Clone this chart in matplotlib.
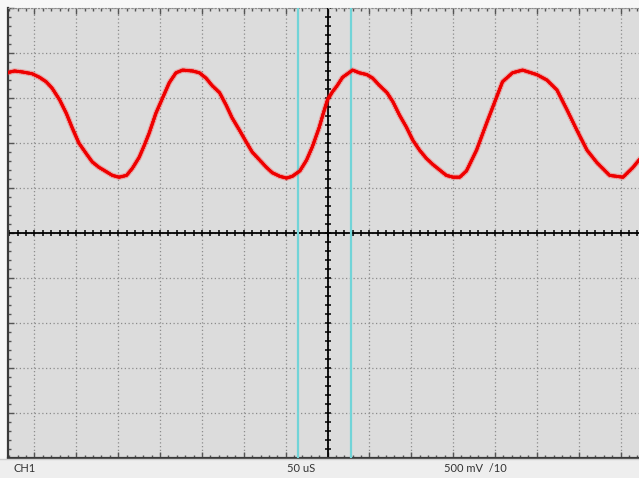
import numpy as np
import matplotlib
matplotlib.use("Agg")
import matplotlib.pyplot as plt
import matplotlib.patheffects as pe
from matplotlib.patches import Rectangle

# ---- data read from the reference screen ----
# time relative to trigger (µs), 50 µs/div
time_us = [-383, -374, -365, -353, -344, -336, -329, -320, -312, -305,
           -297, -288, -281, -273, -264, -257, -249, -240, -233, -225,
           -219, -213, -205, -197, -189, -181, -173, -161, -153, -145,
           -138, -129, -121, -114, -105, -97, -90, -81, -73, -66,
           -57, -49, -42, -33, -25, -18, -10, -5, 0, 6,
           11, 18, 30, 38, 47, 54, 62, 71, 78, 86,
           94, 102, 110, 118, 126, 134, 142, 150, 158, 166,
           178, 190, 202, 209, 221, 233, 250, 262, 274, 286,
           298, 310, 322, 337, 353, 365, 372]
# channel 1 voltage (V), 500 mV/div
volts = [1.78, 1.80, 1.79, 1.77, 1.73, 1.68, 1.61, 1.48, 1.33, 1.17,
         1.00, 0.88, 0.79, 0.73, 0.68, 0.64, 0.62, 0.64, 0.72, 0.84,
         0.97, 1.11, 1.33, 1.50, 1.67, 1.78, 1.81, 1.80, 1.78, 1.72,
         1.64, 1.56, 1.42, 1.28, 1.14, 1.01, 0.90, 0.81, 0.73, 0.67,
         0.63, 0.61, 0.63, 0.69, 0.81, 0.96, 1.17, 1.33, 1.48, 1.57,
         1.63, 1.73, 1.81, 1.78, 1.76, 1.72, 1.64, 1.56, 1.46, 1.31,
         1.18, 1.03, 0.92, 0.83, 0.76, 0.70, 0.64, 0.62, 0.62, 0.69,
         0.92, 1.22, 1.51, 1.68, 1.78, 1.81, 1.76, 1.70, 1.59, 1.37,
         1.14, 0.92, 0.78, 0.64, 0.62, 0.73, 0.81]
cursors_us = [-35, 28]
status_labels = ["CH1", "50 uS", "500 mV  /10"]

US_PER_DIV = 50.0
V_PER_DIV = 0.5
PX_PER_DIV_X = 41.86

W, H = 639, 478
fig = plt.figure(figsize=(W / 100, H / 100), dpi=100, facecolor="#f7f7f7")

# status bar
fig.patches.append(Rectangle((0, 0), 1, 19 / H, transform=fig.transFigure,
                             facecolor="#eeeeee", edgecolor="none", zorder=0))
fig.lines.append(plt.Line2D([0, 1], [19.5 / H, 19.5 / H], transform=fig.transFigure,
                            color="#cfcfcf", lw=1))

left_px, right_px, top_px, bot_px = 8, 639, 8, 458
center_px = 327.5
ax = fig.add_axes([left_px / W, (H - bot_px) / H,
                   (right_px - left_px) / W, (bot_px - top_px) / H])
ax.set_facecolor("#dcdcdc")
xl = (left_px - center_px) / PX_PER_DIV_X * US_PER_DIV
xr = (right_px - center_px) / PX_PER_DIV_X * US_PER_DIV
yl, yr = -5 * V_PER_DIV, 5 * V_PER_DIV

major_x = np.arange(-7, 8) * US_PER_DIV
minor_x = np.arange(-40, 40) * US_PER_DIV / 5
minor_x = minor_x[(minor_x >= xl) & (minor_x <= xr)]
major_y = np.arange(-5, 6) * V_PER_DIV
minor_y = np.arange(-25, 26) * V_PER_DIV / 5
ax.set_xticks(major_x)
ax.set_xticks(minor_x, minor=True)
ax.set_yticks(major_y)
ax.set_yticks(minor_y, minor=True)
ax.set_xlim(xl, xr)
ax.set_ylim(yl, yr)
ax.grid(True, which="major", color="#8c8c8c", lw=0.9, ls=(0, (1, 2)))
ax.tick_params(which="both", direction="in", top=True, right=False,
               labelbottom=False, labelleft=False, color="#555555")
ax.tick_params(which="major", length=4, width=1)
ax.tick_params(which="minor", length=2.5, width=1)

for s in ["left", "bottom"]:
    ax.spines[s].set_color("#3a3a3a")
    ax.spines[s].set_linewidth(1.6)
ax.spines["top"].set_color("#8c8c8c")
ax.spines["top"].set_linestyle((0, (1, 2)))
ax.spines["right"].set_visible(False)

# center cross with small ticks
ax.axhline(0, color="black", lw=1.3, zorder=2)
ax.axvline(0, color="black", lw=1.3, zorder=2)
ax.plot(minor_x, np.zeros_like(minor_x), ls="none", marker="|", ms=5,
        mew=1.1, color="black", zorder=2)
ax.plot(np.zeros_like(minor_y), minor_y, ls="none", marker="_", ms=5,
        mew=1.1, color="black", zorder=2)

# cursors
for c in cursors_us:
    ax.axvline(c, color="#72d4d8", lw=1.6, zorder=3)

# trace: soft halo + faint ticked strokes for the noisy scope look
fuzz = [
    pe.withTickedStroke(angle=90, spacing=1.3, length=0.9, linewidth=0.5,
                        foreground="#ff2a2a", alpha=0.45),
    pe.withTickedStroke(angle=-90, spacing=1.7, length=0.8, linewidth=0.5,
                        foreground="#ff2a2a", alpha=0.45),
    pe.Normal(),
]
ax.plot(time_us, volts, color="#ff2a2a", lw=4.0, alpha=0.3, zorder=4,
        solid_joinstyle="round")
ax.plot(time_us, volts, color="#ee0000", lw=2.0, zorder=5,
        solid_joinstyle="round", path_effects=fuzz)
ax.set_xlim(xl, xr)
ax.set_ylim(yl, yr)

# status text
ty = 9.5 / H
xs = [13, 287, 444]
for lab, xp in zip(status_labels, xs):
    fig.text(xp / W, ty, lab, fontsize=8, family="Lato",
             color="#333333", va="center", ha="left")

fig.savefig("out.png", dpi=100, facecolor=fig.get_facecolor())
